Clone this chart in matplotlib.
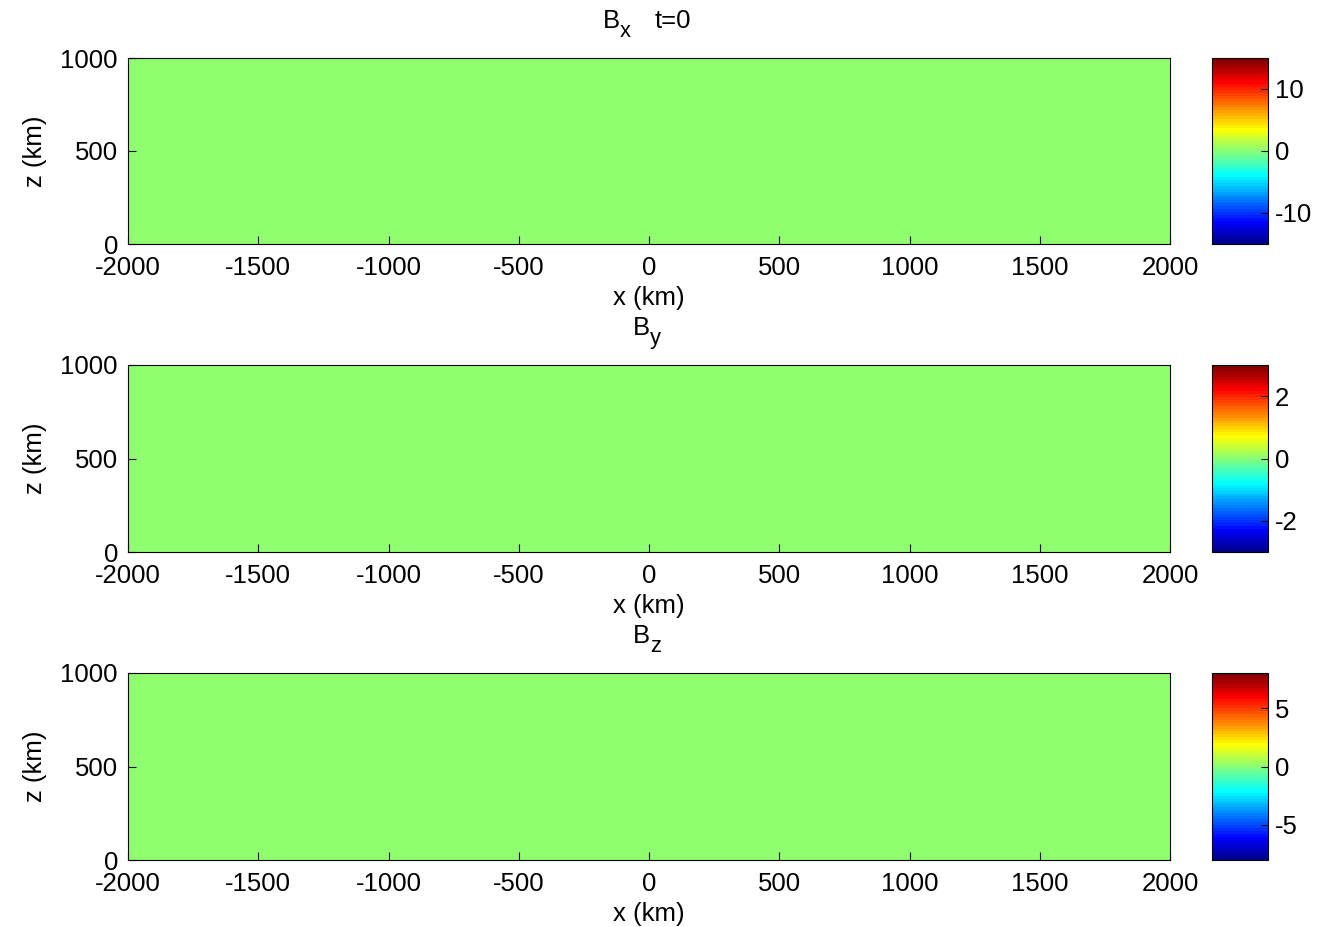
import numpy as np
import matplotlib
matplotlib.use("Agg")
import matplotlib.pyplot as plt
from matplotlib.colors import ListedColormap, Normalize

plt.rcParams['font.family'] = ['Liberation Sans', 'DejaVu Sans']
plt.rcParams['axes.unicode_minus'] = False

# ---- data ----
x_edges = [-2000, 2000]          # km
z_edges = [0, 1000]              # km
Bx = [[0.0]]
By = [[0.0]]
Bz = [[0.0]]
Bx_lim = 15
By_lim = 3
Bz_lim = 8
x_ticks = [-2000, -1500, -1000, -500, 0, 500, 1000, 1500, 2000]
z_ticks = [0, 500, 1000]
title_main = ['B', 'B', 'B']
title_sub = ['x', 'y', 'z']
title_extra = ['t=0', '', '']
cb_ticks = [[-10, 0, 10], [-2, 0, 2], [-5, 0, 5]]

# MATLAB-style jet(64)
def matlab_jet(m=64):
    n = int(np.ceil(m / 4))
    u = np.concatenate([np.arange(1, n + 1) / n, np.ones(n - 1), np.arange(n, 0, -1) / n])
    g = int(np.ceil(n / 2)) - (1 if m % 4 == 1 else 0) + np.arange(1, len(u) + 1)
    r = g + n
    b = g - n
    J = np.zeros((m, 3))
    for col, idx in ((0, r), (1, g), (2, b)):
        ok = (idx >= 1) & (idx <= m)
        J[idx[ok] - 1, col] = u[ok]
    return ListedColormap(J)

cmap = matlab_jet(64)

fig = plt.figure(figsize=(13.2, 9.27), dpi=100)
W, H = 1320, 927
rows = [(58, 244), (365, 552), (673, 860)]
fields = [Bx, By, Bz]
lims = [Bx_lim, By_lim, Bz_lim]
fs = 18.5
px = 72 / 100  # points per pixel

for i, ((top, bot), F, lim) in enumerate(zip(rows, fields, lims)):
    ax = fig.add_axes([128 / W, 1 - bot / H, (1170 - 128) / W, (bot - top) / H])
    mesh = ax.pcolormesh(x_edges, z_edges, np.array(F), cmap=cmap,
                         norm=Normalize(-lim, lim), shading='flat')
    ax.set_xlim(-2000, 2000)
    ax.set_ylim(0, 1000)
    ax.set_xticks(x_ticks)
    ax.set_yticks(z_ticks)
    ax.tick_params(direction='in', length=6, labelsize=fs)
    ax.tick_params(axis='x', pad=12 * px)
    ax.tick_params(axis='y', pad=10 * px)
    ax.set_xlabel('x (km)', fontsize=fs, labelpad=4)
    ax.set_ylabel('z (km)', fontsize=fs, labelpad=10)
    for s in ax.spines.values():
        s.set_linewidth(0.8)

    # MATLAB-like title with large subscript
    if title_extra[i]:
        bx, sx, tx = -29, -29, 6
    else:
        bx, sx, tx = 1, 1, 0
    ax.annotate(title_main[i], xy=(0.5, 1), xycoords='axes fraction',
                xytext=(bx * px, 30 * px), textcoords='offset points',
                ha='right', va='baseline', fontsize=fs)
    ax.annotate(title_sub[i], xy=(0.5, 1), xycoords='axes fraction',
                xytext=(sx * px, 21 * px), textcoords='offset points',
                ha='left', va='baseline', fontsize=fs * 0.85)
    if title_extra[i]:
        ax.annotate(title_extra[i], xy=(0.5, 1), xycoords='axes fraction',
                    xytext=(tx * px, 30 * px), textcoords='offset points',
                    ha='left', va='baseline', fontsize=fs)

    cax = fig.add_axes([1212 / W, 1 - bot / H, 56 / W, (bot - top) / H])
    cb = fig.colorbar(mesh, cax=cax)
    cb.set_ticks(cb_ticks[i])
    cb.ax.tick_params(direction='in', length=5, labelsize=fs, pad=5)
    cb.outline.set_linewidth(0.8)

fig.savefig('out.png', dpi=100)
